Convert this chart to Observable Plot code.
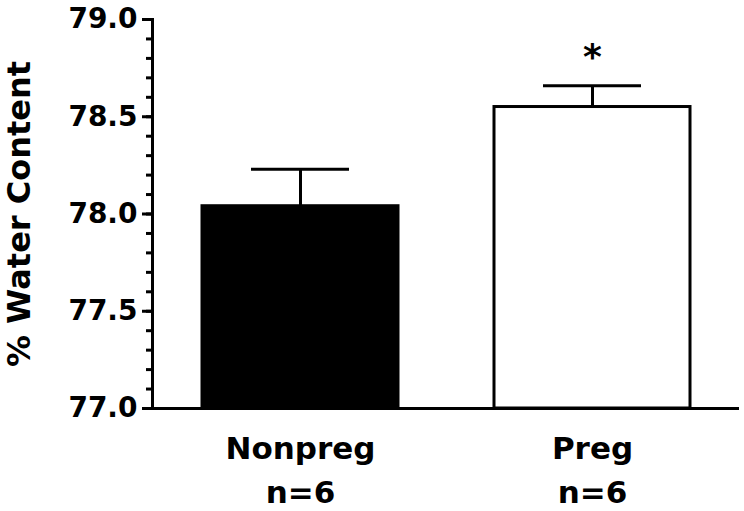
<!DOCTYPE html>
<html>
<head>
<meta charset="utf-8">
<script src="https://cdn.jsdelivr.net/npm/d3@7"></script>
<script src="https://cdn.jsdelivr.net/npm/@observablehq/plot@0.6"></script>
<style>
  html, body { margin: 0; padding: 0; background: white; }
</style>
</head>
<body>
<div id="chart"></div>
<script>
const categories = ["Nonpreg", "Preg"];
const nLabels = ["n=6", "n=6"];
const means = [78.04, 78.55];
const errors = [0.19, 0.11];
const significance = ["", "*"];
const yTicks = [77.0, 77.5, 78.0, 78.5, 79.0];
const yDomain = [77.0, 79.0];
const yTitle = "% Water Content";

const data = categories.map((c, i) => ({
  category: c,
  mean: means[i],
  upper: means[i] + errors[i],
  sig: significance[i]
}));

const chart = Plot.plot({
  width: 744,
  height: 511,
  marginLeft: 152,
  marginRight: 5,
  marginTop: 19,
  marginBottom: 103,
  style: {fontFamily: "DejaVu Sans", fontWeight: "bold", background: "white", color: "black"},
  x: {domain: categories, paddingInner: 0.33, paddingOuter: 0.168, axis: null},
  y: {domain: yDomain, axis: null},
  color: {domain: categories, range: ["black", "white"]},
  marks: [
    Plot.barY(data, {x: "category", y1: yDomain[0], y2: "mean", fill: "category", stroke: "black", strokeWidth: 3}),
    Plot.ruleX(data, {x: "category", y1: "mean", y2: "upper", stroke: "black", strokeWidth: 3}),
    Plot.tickY(data, {x: "category", y: "upper", stroke: "black", strokeWidth: 3, insetLeft: 49, insetRight: 49}),
    Plot.text(data, {x: "category", y: "upper", text: "sig", fontSize: 36, fontWeight: "bold", dy: -28}),
    Plot.axisY({interval: 0.1, tickSize: 6, strokeWidth: 3, tickFormat: () => "", label: null}),
    Plot.axisY({ticks: yTicks, tickSize: 10, strokeWidth: 3, tickPadding: 5, fontSize: 28, tickFormat: d3.format(".1f"), label: null}),
    Plot.axisX({tickSize: 0, tickPadding: 19, fontSize: 31, lineHeight: 1.42, tickFormat: d => d + "\n" + nLabels[categories.indexOf(d)], label: null}),
    Plot.ruleY([yDomain[0]], {stroke: "black", strokeWidth: 3}),
    Plot.frame({anchor: "left", stroke: "black", strokeWidth: 3}),
    Plot.text([yTitle], {frameAnchor: "left", textAnchor: "middle", rotate: -90, dx: -133, fontSize: 32, fontWeight: "bold"})
  ]
});
document.getElementById("chart").appendChild(chart);
</script>
</body>
</html>
